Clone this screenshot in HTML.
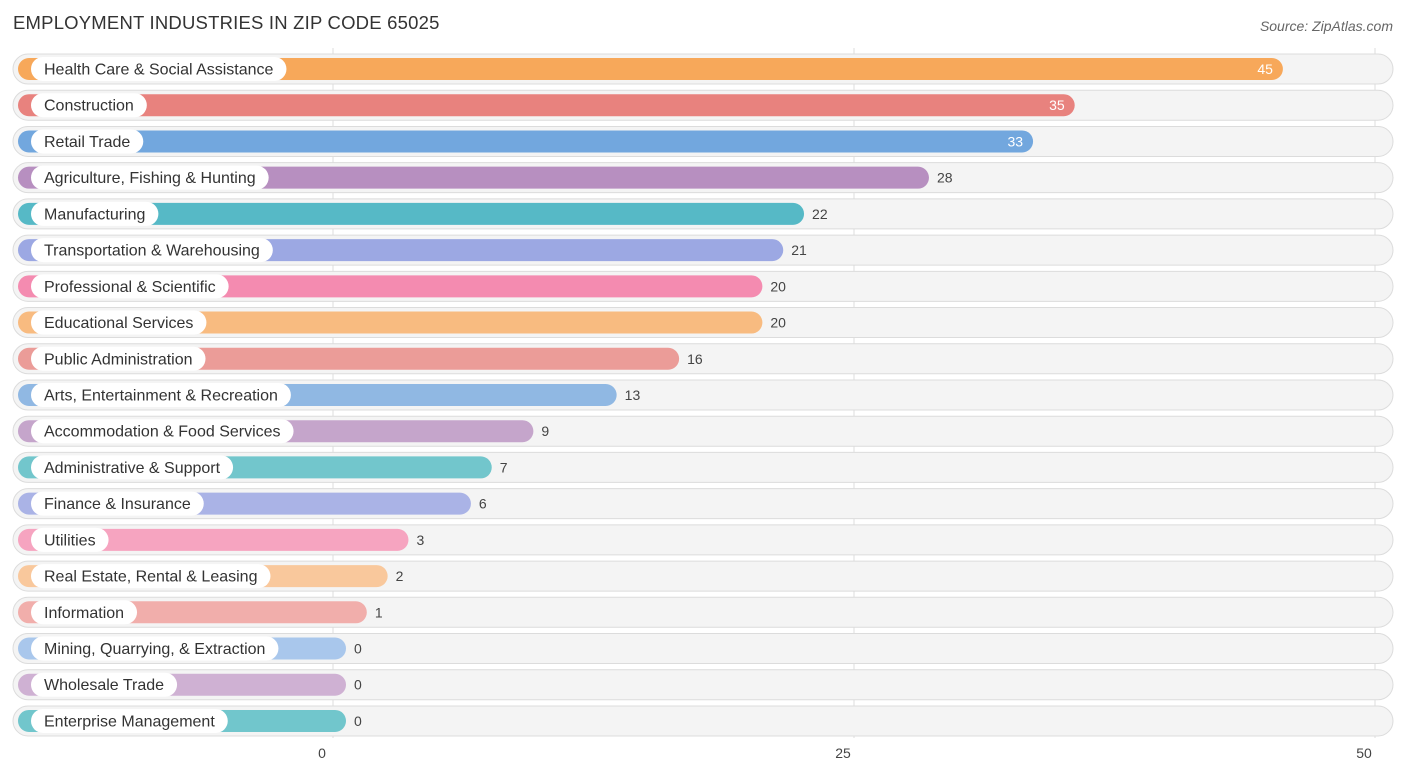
<!DOCTYPE html>
<html><head><meta charset="utf-8"><style>
body{margin:0;background:#fff;font-family:"Liberation Sans",sans-serif}
svg text{font-family:"Liberation Sans",sans-serif}
</style></head><body>
<svg id="c" width="1406" height="777">
<text x="13" y="29" font-size="18.5" letter-spacing="0.2" fill="#333">EMPLOYMENT INDUSTRIES IN ZIP CODE 65025</text>
<text x="1393" y="31" font-size="14" fill="#666" font-style="italic" text-anchor="end">Source: ZipAtlas.com</text>
<g id="grid"></g><g id="rows"></g><g id="ticks"></g>
</svg>
<script>
const categories=["Health Care & Social Assistance","Construction","Retail Trade","Agriculture, Fishing & Hunting","Manufacturing","Transportation & Warehousing","Professional & Scientific","Educational Services","Public Administration","Arts, Entertainment & Recreation","Accommodation & Food Services","Administrative & Support","Finance & Insurance","Utilities","Real Estate, Rental & Leasing","Information","Mining, Quarrying, & Extraction","Wholesale Trade","Enterprise Management"];
const values=[45,35,33,28,22,21,20,20,16,13,9,7,6,3,2,1,0,0,0];
const colors=["#f7a85a","#e8827e","#72a7de","#b78fc0","#56b9c6","#9ca8e3","#f48bb0","#f8bb80","#eb9c98","#90b8e3","#c5a5cb","#72c6cc","#aab3e6","#f6a4c0","#f9c89c","#f1aeab","#a9c7ec","#cfb1d3","#71c6cc"];
const ticks=[0,25,50];
const NS="http://www.w3.org/2000/svg";
const x=v=>333+v*20.84;
const barEnd=v=>346+v*20.82;
const y=i=>69+i*36.22;
function mk(t,a,p){const e=document.createElementNS(NS,t);for(const k in a)e.setAttribute(k,a[k]);p.appendChild(e);return e;}
const grid=document.getElementById('grid'),rows=document.getElementById('rows'),tk=document.getElementById('ticks');
ticks.forEach(t=>{
 const l=mk('line',{x1:x(t),x2:x(t),y1:48,y2:738,stroke:'#ddd','stroke-width':1},grid);
 
 
 const tx=mk('text',{x:x(t)-11,y:758,'font-size':14,fill:'#444','text-anchor':'middle'},tk);
 tx.textContent=t;
 
 
});
const meas=mk('text',{'font-size':16,x:-999,y:-999},rows);
categories.forEach((c,i)=>{
 const cy=y(i);
 const g=mk('g',{},rows);
 
 
 const bg=mk('rect',{x:13,y:cy-15,width:1380,height:30,rx:15,fill:'#f4f4f4',stroke:'#dcdcdc','stroke-width':1},g);
 
 
 const e=barEnd(values[i]);
 const b=mk('rect',{x:18,y:cy-11,width:e-18,height:22,rx:11,fill:colors[i]},g);
 
 
 meas.textContent=c;const w=meas.getComputedTextLength();
 const p=mk('rect',{x:31,y:cy-12,width:w+26,height:24,rx:12,fill:'#fff'},g);
 
 
 const t=mk('text',{x:44,y:cy+5.5,'font-size':16,fill:'#333'},g);
 t.textContent=c;
 
 
 const inside=values[i]>=30;
 const v=mk('text',{x:inside?e-10:e+8,y:cy+5,'font-size':14,fill:inside?'#fff':'#444','text-anchor':inside?'end':'start'},g);
 v.textContent=values[i];
 
 
});
meas.remove();
</script>
</body></html>
